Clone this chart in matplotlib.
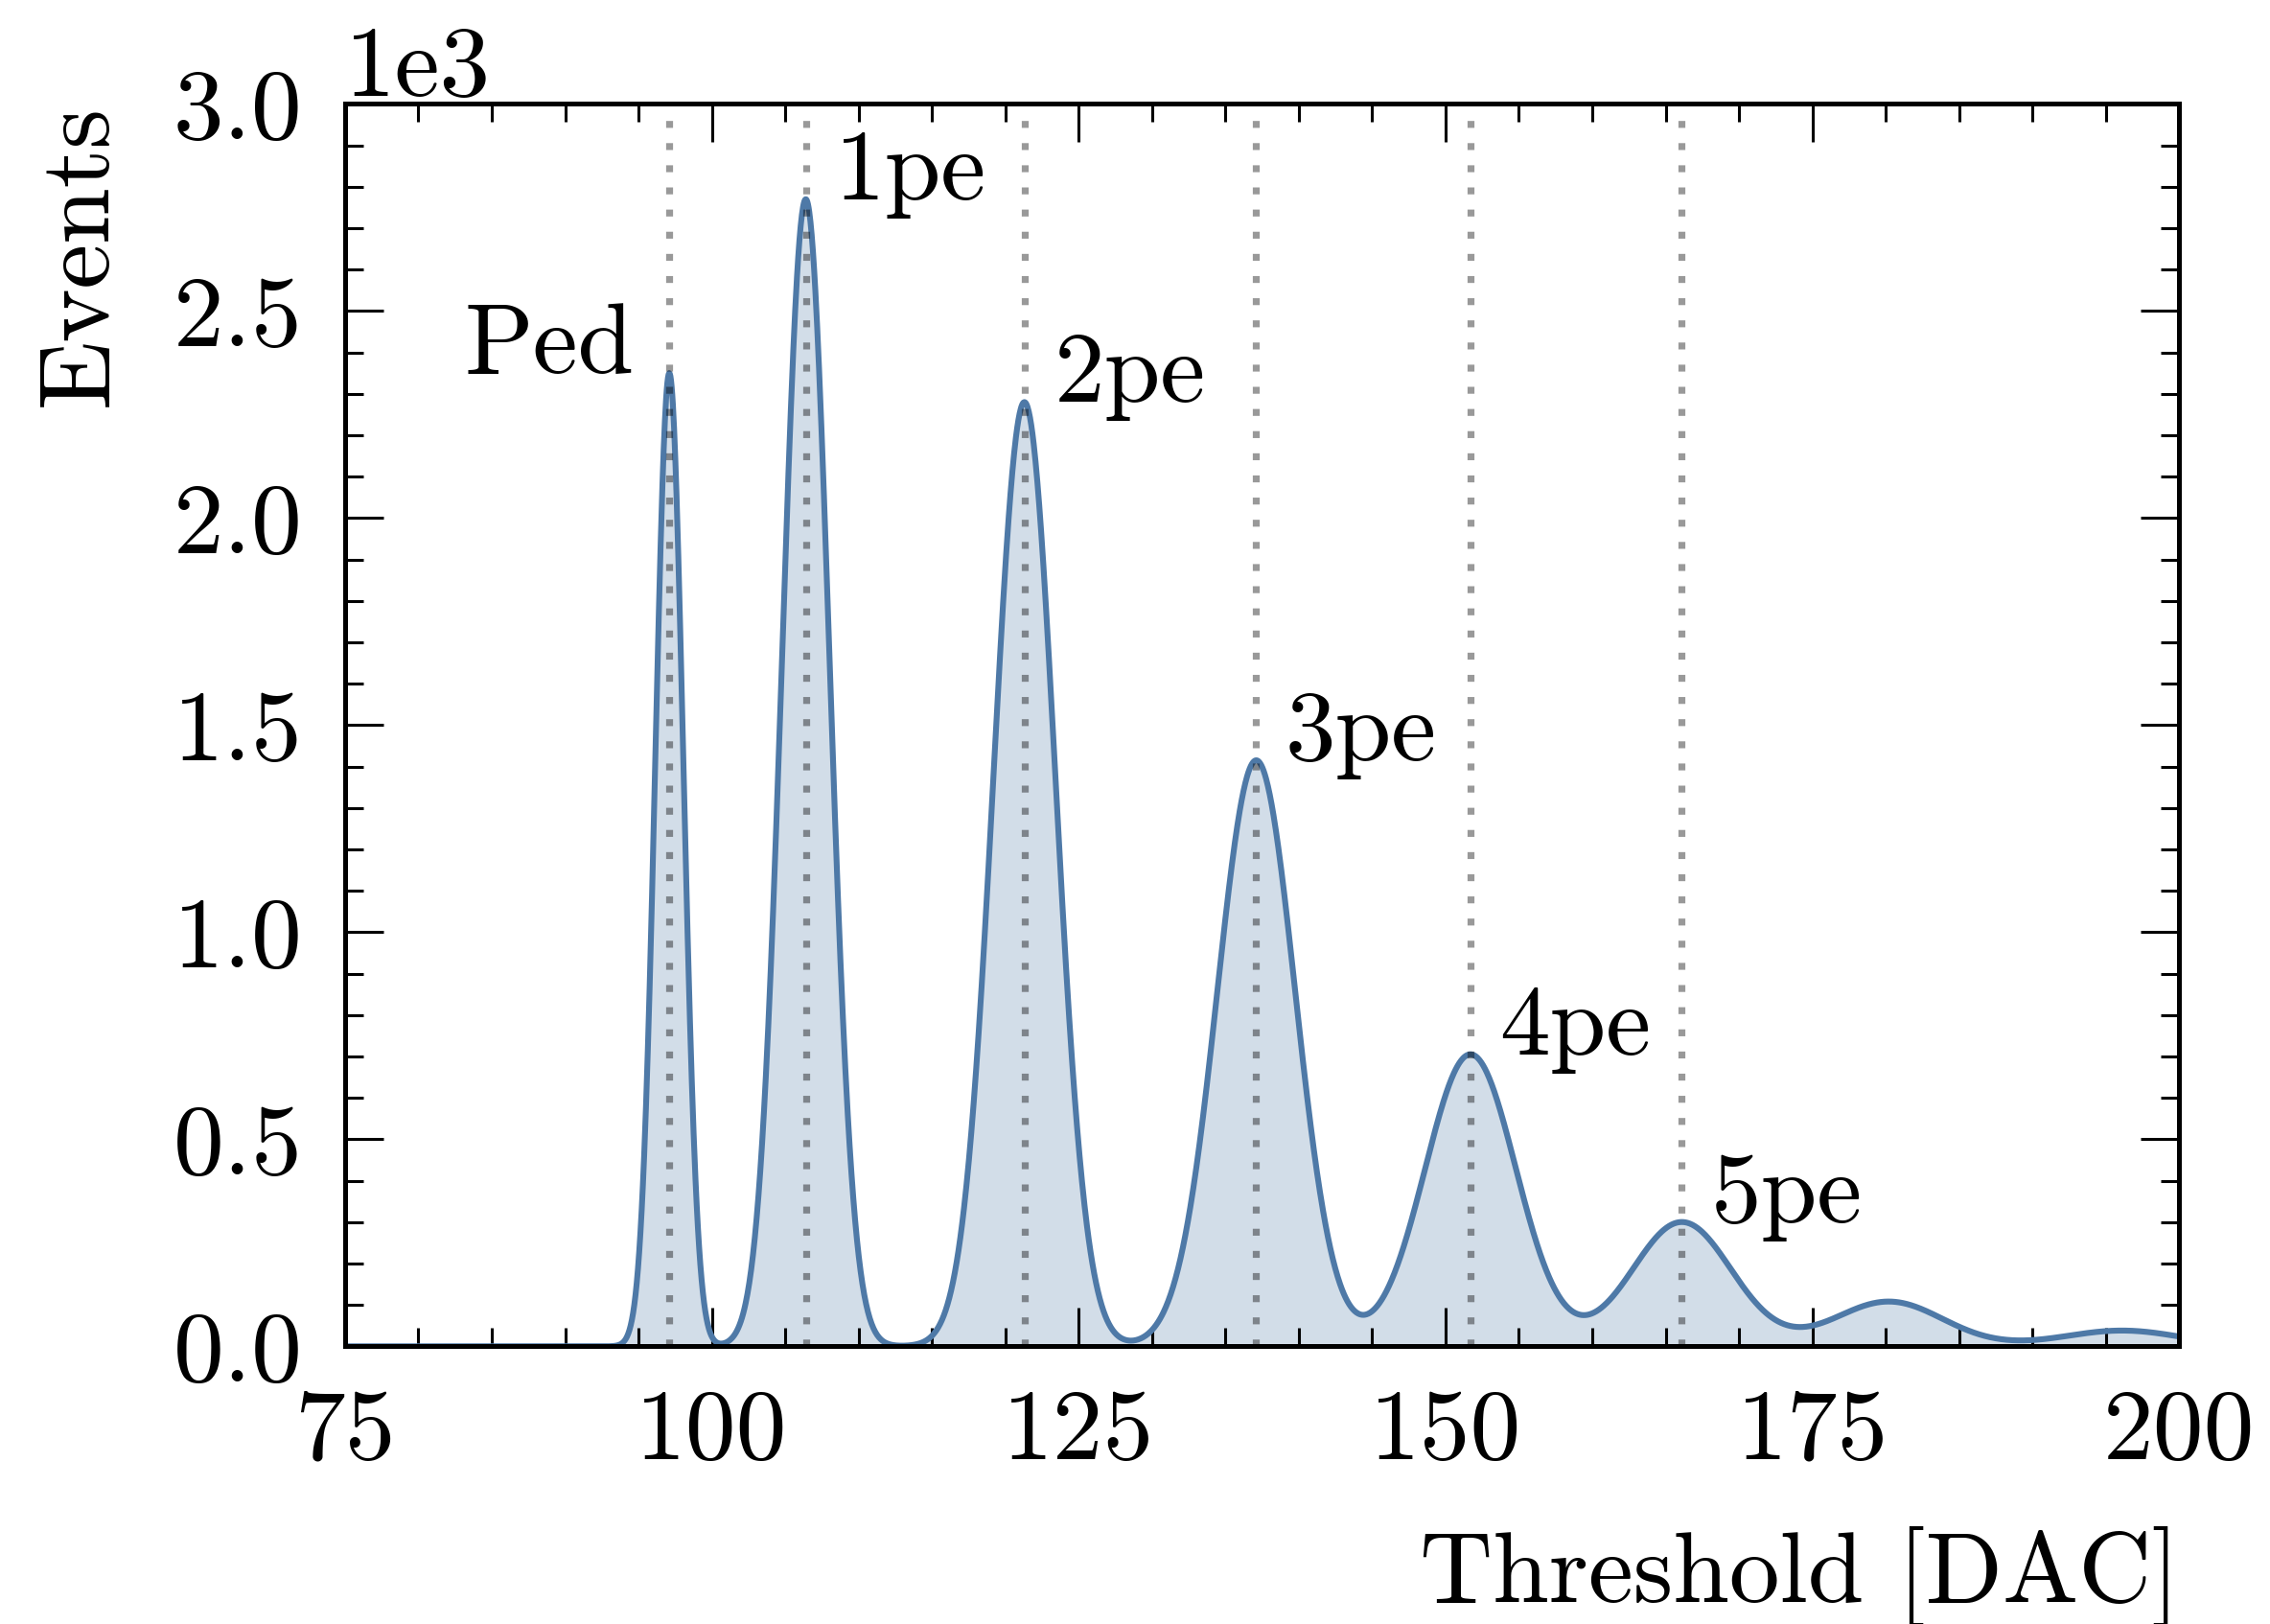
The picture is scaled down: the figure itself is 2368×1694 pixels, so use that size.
import numpy as np
import matplotlib
matplotlib.use("Agg")
from matplotlib import pyplot as plt
from matplotlib.ticker import MultipleLocator

# peak parameters (threshold in DAC, height in events)
peak_labels = ['Ped', '1pe', '2pe', '3pe', '4pe', '5pe', '', '']
peak_pos = [97.1, 106.4, 121.3, 137.1, 151.7, 166.1, 180.2, 196.1]
peak_height = [2350, 2770, 2280, 1415, 705, 300, 108, 38]
peak_sigma = [0.95, 1.6, 2.1, 2.65, 3.1, 3.4, 3.7, 4.0]
marked = 6  # Ped .. 5pe get a dotted line and a label

plt.rcParams['font.family'] = 'cmr10'
plt.rcParams['font.size'] = 38
plt.rcParams['axes.linewidth'] = 1.8

fig = plt.figure(figsize=(11.84, 8.47), dpi=200)
ax = fig.add_axes([0.152, 0.171, 0.808, 0.765])

x = np.linspace(75, 200, 3000)
y = np.zeros_like(x)
for mu, h, s in zip(peak_pos, peak_height, peak_sigma):
    y += h * np.exp(-0.5 * ((x - mu) / s) ** 2)

col = '#4e79a7'
ax.fill_between(x, 0, y, color=col, alpha=0.25, lw=0)
ax.plot(x, y, color=col, lw=2.2)

for i in range(marked):
    ax.axvline(peak_pos[i], color='k', alpha=0.4, lw=2.6, ls=(0, (1, 2.2)))
    if i == 0:
        ax.text(peak_pos[i] - 2.4, peak_height[i], peak_labels[i], ha='right', va='baseline')
    else:
        ax.text(peak_pos[i] + 2.0, peak_height[i], peak_labels[i], ha='left', va='baseline')

ax.set_xlim(75, 200)
ax.set_ylim(0, 3000)
ax.xaxis.set_major_locator(MultipleLocator(25))
ax.xaxis.set_minor_locator(MultipleLocator(5))
ax.yaxis.set_major_locator(MultipleLocator(500))
ax.yaxis.set_minor_locator(MultipleLocator(100))
ax.ticklabel_format(axis='y', style='sci', scilimits=(3, 3))
ax.tick_params(which='both', direction='in', top=True, right=True, width=1.1)
ax.tick_params(which='major', length=14.5, pad=16)
ax.tick_params(which='minor', length=7)

ax.set_xlabel('Threshold [DAC]', loc='right', labelpad=18)
ax.set_ylabel('Events', loc='top', labelpad=18)

fig.savefig('out.png', dpi=200)
